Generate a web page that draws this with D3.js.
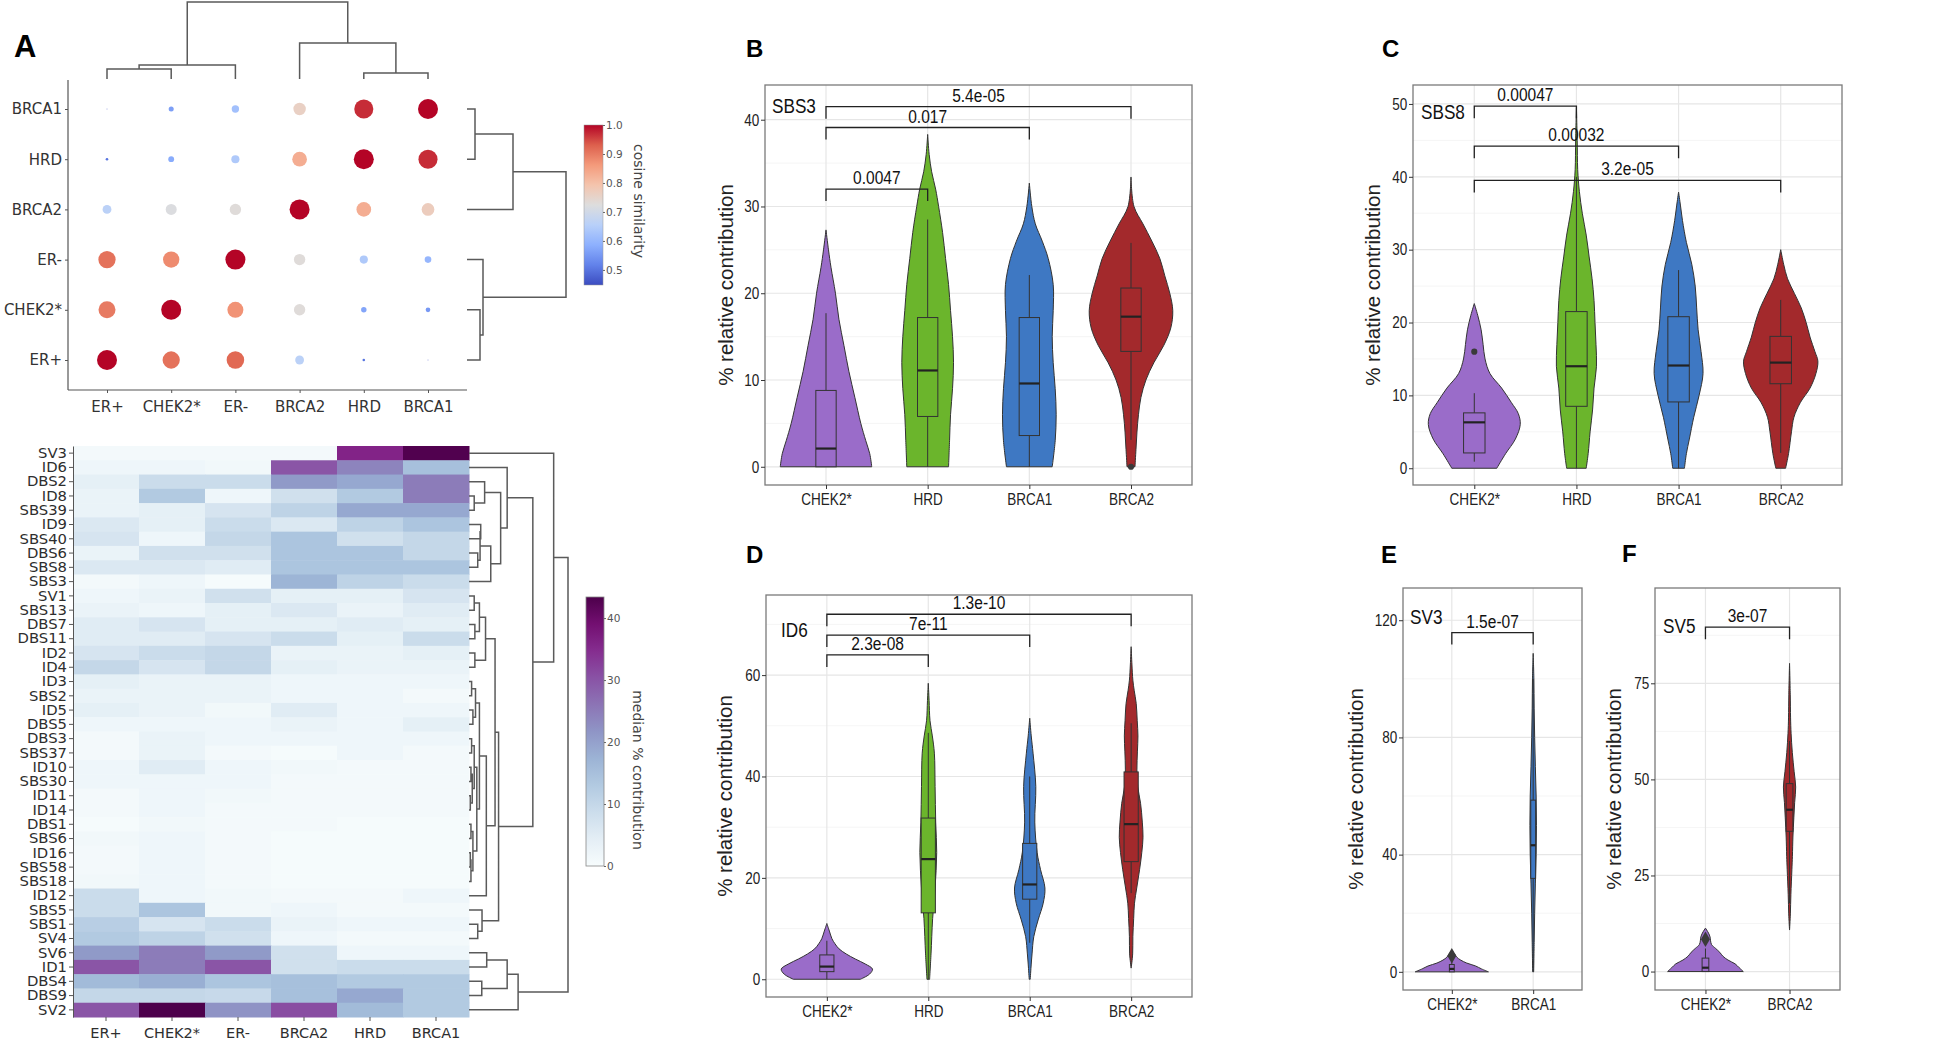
<!DOCTYPE html>
<html><head><meta charset="utf-8">
<script src="https://cdn.jsdelivr.net/npm/d3@7"></script>
<style>body{margin:0;background:#fff;}</style>
</head><body>
<svg id="c" width="1960" height="1042"></svg>
<script>
// ---------------- DATA ----------------
const dotCols = ["ER+","CHEK2*","ER-","BRCA2","HRD","BRCA1"];
const dotRows = ["BRCA1","HRD","BRCA2","ER-","CHEK2*","ER+"];
const cosineValues = [
  [0.46,0.56,0.62,0.76,0.97,1.00],
  [0.50,0.58,0.64,0.83,1.00,0.97],
  [0.66,0.72,0.73,1.00,0.83,0.77],
  [0.91,0.88,1.00,0.73,0.64,0.60],
  [0.90,1.00,0.87,0.73,0.57,0.55],
  [1.00,0.91,0.92,0.66,0.50,0.46]
];
const cosineTicks = [0.5,0.6,0.7,0.8,0.9,1.0];
// linkage: [childA, childB, height]; leaves 0..n-1, merges n..
const dotColLinkage = [[0,1,10],[6,2,14],[4,5,6],[3,8,36],[7,9,77]];
const dotRowLinkage = [[0,1,8],[6,2,46],[4,5,13],[3,8,16],[7,9,99]];

const heatCols = ["ER+","CHEK2*","ER-","BRCA2","HRD","BRCA1"];
const heatRows = ["SV3","ID6","DBS2","ID8","SBS39","ID9","SBS40","DBS6","SBS8","SBS3","SV1","SBS13","DBS7","DBS11","ID2","ID4","ID3","SBS2","ID5","DBS5","DBS3","SBS37","ID10","SBS30","ID11","ID14","DBS1","SBS6","ID16","SBS58","SBS18","ID12","SBS5","SBS1","SV4","SV6","ID1","DBS4","DBS9","SV2"];
const heatValues = [
  [1,1,1,1,36,43],[2,2,1.5,30,24,15],[4,9,9,21,19,25],[3,13,2,8,13,25],[3,4,7,11,19,19],
  [6,4,9,6,11,14],[7,2,10,14,8,10],[3,8,8,14,14,10],[6,6,5,14,14,14],[1,2,0.5,17,11,9],
  [2,3,8,4,4,7],[3,2,4,6,3,5],[5,7,4,4,5,4],[5,5,7,9,4,9],[7,9,10,3,3,4],
  [10,7,10,4,3,3],[4,3,3,2,2,2],[3,3,3,2,2,1],[4,3,1.5,5,2,2],[2,2,2,3,2,4],
  [1,3,2,2,2,2],[1,3,1,0.5,2,1],[2,5,2,1.5,1,1],[2,2,2,1,1,1],[1,2,1.5,1,1,1],
  [1,2,1,1,1,1],[0.5,1.5,1,1,0.5,0.5],[1.5,2,1,0.5,0.5,0.5],[1,2,1,0.5,0.5,0.5],[1,2,1,0.5,0.5,0.5],
  [1.5,2,1,0.5,0.5,0.5],[9,2,1.5,1,1,2],[9,14,1.5,2,1,1],[12,7,9,3,2,2],[13,11,8,2,1,1],
  [21,25,21,8,2,2],[30,25,30,8,9,9],[16,18,14,15,13,13],[10,10,9.5,15,19,13],[30,43.4,22,31,16,13]
];
const heatTicks = [0,10,20,30,40];
const heatLinkage = [
  [3,4,4],[2,40,12],[5,6,9],[7,8,6.7],[42,43,8.5],[44,9,16.7],[41,45,24.3],[1,46,29.3],
  [10,11,4],[12,13,4.5],[48,49,8],[14,15,4.5],[50,51,12.7],
  [16,17,2],[18,19,3],[53,54,5],[20,21,2],[22,23,1.5],[24,25,1],[57,58,2.5],[56,59,4],
  [26,27,1.5],[28,29,1],[62,30,1.5],[61,63,3],[60,64,6],[55,65,8],[66,31,13.3],[52,67,20],
  [33,34,6.7],[32,69,10],[68,70,22.7],[47,71,49],[0,72,65],
  [35,36,13.6],[37,38,9.8],[74,75,29.3],[76,39,37.7],[73,77,76]
];

const groups4 = ["CHEK2*","HRD","BRCA1","BRCA2"];
// violin profiles: [value, relative density]
const sbs3Violins = [
  [[0,46],[1.5,44],[3,40],[5,35],[8,29],[11,23],[14,18],[17,13],[20,9.5],[23,5],[25,2.5],[27.3,0]],
  [[0,21],[3,22],[6,23],[9,25],[12,26],[15,25],[18,23],[21,21],[24,18],[27,15],[30,11],[32,8],[34,4],[36,1.5],[38.3,0]],
  [[0,23],[3,26],[6,27],[9,26],[12,24],[15,23],[18,24],[21,24],[24,19],[26,13],[28,6],[30,2.5],[32.7,0]],
  [[0,4],[2,5],[4,6],[6,7.5],[8,10],[10,15],[12,23],[14,33],[16,40],[18,42],[20,39],[22,34],[24,29],[26,21],[28,12],[30,3],[33.4,0]]
];
const sbs3Boxes = [[0,0,2.1,8.8,17.7],[0,5.8,11.1,17.2,28.5],[0,3.6,9.6,17.2,22.1],[3.1,13.3,17.3,20.6,25.8]];
const sbs3Outliers = [[3,0]];
const sbs3Tests = [[0,1,32.0,"0.0047"],[0,2,39.1,"0.017"],[0,3,41.5,"5.4e-05"]];

const sbs8Violins = [
  [[0,23],[2,32],[4,42],[6,47],[7.5,45],[9,38],[11,28],[13,16],[15,11],[17,9],[19,7],[21,3.5],[22.6,0]],
  [[0,10],[2,12],[5,14],[8,16.5],[11,18],[14,20.5],[17,20],[20,19],[23,18],[26,16],[29,13],[32,10],[35,6],[38,3],[41,1.3],[45,0.8],[49.5,0]],
  [[0,6],[2,8],[4,11],[7,15.5],[10,21],[13,25],[16,23],[19,20],[22,18.5],[25,17],[28,13.5],[31,8],[34,4],[36,2],[37.9,0]],
  [[0,5],[2,8],[5,11],[7,13.5],[9,20],[11,30],[13,36],[14.7,38],[16,35],[18,30],[20,26],[22,21],[24,14],[26,7],[28,3],[30,0]]
];
const sbs8Boxes = [[0.9,2.1,6.3,7.6,10.3],[0,8.5,14.0,21.5,40],[0,9.1,14.1,20.8,27.2],[2.1,11.6,14.5,18.1,23.1]];
const sbs8Outliers = [[0,16.0]];
const sbs8Tests = [[0,1,49.7,"0.00047"],[0,2,44.2,"0.00032"],[0,3,39.5,"3.2e-05"]];

const id6Violins = [
  [[0,33],[1,42],[2,45],[3,38],[4,28],[5,19],[6,12],[7,8],[8,5],[9.5,2.5],[11,0]],
  [[0,1.3],[5,2.7],[12,4.3],[18,6.7],[25,8.3],[31,7.3],[38,6.7],[44.6,6],[48,4],[51,1.7],[55,0.8],[58.4,0]],
  [[0,0.5],[3,1.5],[5,2.3],[8.4,4],[11.7,8.3],[15,13.3],[18,15],[21.6,10.7],[25,7.3],[31,5],[38,6],[44.6,3.3],[48,1.5],[51.5,0]],
  [[2.2,0],[5,1.5],[8.4,1.7],[12,2.5],[15,3.3],[18,5.5],[21.6,8.3],[25,10.5],[28,11.7],[31,11],[34.7,9.3],[38,6.5],[41.3,5.7],[45,6.2],[48,6.7],[51,6],[54.4,5],[57,3],[59,1.7],[62,0.8],[65.6,0]]
];
const id6Boxes = [[0,1.5,2.5,4.8,7.6],[0,13.1,23.7,31.8,48.6],[7.2,15.8,18.7,26.8,40],[17,23.2,30.6,40.9,50.5]];
const id6Outliers = [];
const id6Tests = [[0,1,64.0,"2.3e-08"],[0,2,67.9,"7e-11"],[0,3,72.0,"1.3e-10"]];

const sv3Groups = ["CHEK2*","BRCA1"];
const sv3Violins = [
  [[0,37],[1,30],[2,24],[3,15],[4,9],[5,5],[6,3],[7.4,0]],
  [[0,0.5],[10,1],[20,1.5],[30,2.2],[40,3],[50,3.3],[60,3],[70,2.2],[80,1.5],[90,1],[100,0.7],[108.7,0]]
];
const sv3Boxes = [[0,0,1,2.5,4],[0,31.9,43.2,58.6,100]];
const sv3Outliers = [[0,5.5]];
const sv3Tests = [[0,1,115.8,"1.5e-07"]];

const sv5Groups = ["CHEK2*","BRCA2"];
const sv5Violins = [
  [[0,37],[1,33],[2,29],[3,22],[4,17],[5,14],[6,10],[7,6],[8,5],[9,4.5],[10,3],[11.3,0]],
  [[10.8,0],[15,0.8],[20,1.3],[26.5,2.3],[30,2.8],[35,3.3],[40,4.2],[44,5],[48,6],[52,4.5],[57,2.7],[62,1.5],[66,1],[72,0.7],[80.2,0]]
];
const sv5Boxes = [[0,0,1,3.5,6],[17.8,36.5,42.1,48.9,60]];
const sv5Outliers = [[0,8.4]];
const sv5Tests = [[0,1,89.6,"3e-07"]];

// ---------------- STYLE ----------------
const groupColors = {"CHEK2*":"#9a6cc9","HRD":"#6bb52c","BRCA1":"#3e78c3","BRCA2":"#a3292c"};
const FA = "'DejaVu Sans', Verdana, sans-serif";
const FG = "'Liberation Sans', Arial, Helvetica, sans-serif";
const svg = d3.select('#c');

function txt(g, x, y, s, o = {}) {
  let tr = `translate(${x},${y})`;
  if (o.rot) tr += ` rotate(${o.rot})`;
  if (o.sx) tr += ` scale(${o.sx},1)`;
  return g.append('text').attr('transform', tr)
    .attr('text-anchor', o.anchor || 'start')
    .attr('font-family', o.family || FG)
    .attr('font-size', o.size || 16)
    .attr('font-weight', o.weight || 'normal')
    .attr('fill', o.fill || '#1a1a1a')
    .text(s);
}

function dendro(g, leafPos, linkage, base, len, orient) {
  const n = leafPos.length;
  const pos = leafPos.slice(), hts = new Array(n).fill(0);
  const hmax = d3.max(linkage, d => d[2]);
  const hs = d3.scaleLinear().domain([0, hmax]).range([0, len]);
  const path = d3.path();
  linkage.forEach(([a, b, h]) => {
    if (orient === 'top') {
      const ya = base - hs(hts[a]), yb = base - hs(hts[b]), yh = base - hs(h);
      path.moveTo(pos[a], ya); path.lineTo(pos[a], yh); path.lineTo(pos[b], yh); path.lineTo(pos[b], yb);
    } else {
      const xa = base + hs(hts[a]), xb = base + hs(hts[b]), xh = base + hs(h);
      path.moveTo(xa, pos[a]); path.lineTo(xh, pos[a]); path.lineTo(xh, pos[b]); path.lineTo(xb, pos[b]);
    }
    pos.push((pos[a] + pos[b]) / 2); hts.push(h);
  });
  g.append('path').attr('d', path.toString()).attr('fill', 'none').attr('stroke', '#5a5a5a').attr('stroke-width', 1.5);
}

// ---------------- PANEL A (top): dot plot ----------------
const gA = svg.append('g');
txt(gA, 14, 57, 'A', {size: 31, weight: 'bold', fill: '#000'});
const dx = d3.scalePoint().domain(dotCols).range([107, 428]);
const dy = d3.scalePoint().domain(dotRows).range([109, 360]);
const coolStops = ["#3b4cc0","#6282ea","#8db0fe","#b8d0f9","#dddddd","#f4c4ad","#f49a7b","#dd604d","#b40426"];
const cosMin = 0.448, cosMax = 1.0;
const cosColor = d3.scaleLinear()
  .domain(coolStops.map((c, i) => cosMin + (cosMax - cosMin) * i / (coolStops.length - 1)))
  .range(coolStops).interpolate(d3.interpolateRgb).clamp(true);
const cosSize = d3.scaleSqrt().domain([0.44, 1]).range([0, 10]).clamp(true);

gA.append('line').attr('x1', 68).attr('x2', 68).attr('y1', 80).attr('y2', 390).attr('stroke', '#555').attr('stroke-width', 1.2);
gA.append('line').attr('x1', 68).attr('x2', 467).attr('y1', 390).attr('y2', 390).attr('stroke', '#555').attr('stroke-width', 1.2);
const axL = gA.append('g').attr('transform', 'translate(68,0)').call(d3.axisLeft(dy).tickSize(3).tickPadding(3).tickSizeOuter(0));
const axB = gA.append('g').attr('transform', 'translate(0,390)').call(d3.axisBottom(dx).tickSize(3).tickSizeOuter(0));
[axL, axB].forEach(a => {
  a.select('.domain').remove();
  a.selectAll('line').attr('stroke', '#555');
  a.selectAll('text').attr('font-family', FA).attr('font-size', 15).attr('fill', '#333');
});
axB.selectAll('text').attr('y', 11);
gA.selectAll('circle.dot').data(dotRows.flatMap((r, i) => dotCols.map((c, j) => ({r, c, v: cosineValues[i][j]}))))
  .join('circle').attr('class', 'dot')
  .attr('cx', d => dx(d.c)).attr('cy', d => dy(d.r)).attr('r', d => cosSize(d.v)).attr('fill', d => cosColor(d.v));
dendro(gA, dotCols.map(c => dx(c)), dotColLinkage, 79, 77, 'top');
dendro(gA, dotRows.map(r => dy(r)), dotRowLinkage, 467, 99, 'right');

// colorbar A
const defs = svg.append('defs');
const grad1 = defs.append('linearGradient').attr('id', 'gcos').attr('x1', 0).attr('x2', 0).attr('y1', 1).attr('y2', 0);
coolStops.forEach((c, i) => grad1.append('stop').attr('offset', i / (coolStops.length - 1)).attr('stop-color', c));
const cbY = d3.scaleLinear().domain([cosMin, cosMax]).range([285, 125]);
gA.append('rect').attr('x', 584).attr('y', 125).attr('width', 19).attr('height', 160).attr('fill', 'url(#gcos)')
  .attr('stroke', '#999').attr('stroke-width', 0.5);
const cbAx = gA.append('g').attr('transform', 'translate(603,0)').call(d3.axisRight(cbY).tickValues(cosineTicks).tickFormat(d3.format('.1f')).tickSize(2).tickSizeOuter(0));
cbAx.select('.domain').remove();
cbAx.selectAll('line').attr('stroke', '#666');
cbAx.selectAll('text').attr('font-family', FA).attr('font-size', 10.5).attr('fill', '#555').attr('x', 3);
txt(gA, 634, 201, 'cosine similarity', {rot: 90, anchor: 'middle', family: FA, size: 14, fill: '#444'});

// ---------------- PANEL A (bottom): heatmap ----------------
const gH = svg.append('g');
const hx = d3.scaleBand().domain(heatCols).range([73, 469]);
const hy = d3.scaleBand().domain(heatRows).range([446, 1017]);
const hMax = 43.4;
const hColor = d3.scaleSequential(d3.interpolateBuPu).domain([0, hMax]);
gH.selectAll('rect.cell').data(heatRows.flatMap((r, i) => heatCols.map((c, j) => ({r, c, v: heatValues[i][j]}))))
  .join('rect').attr('class', 'cell')
  .attr('x', d => hx(d.c)).attr('y', d => hy(d.r)).attr('width', hx.bandwidth() + 0.5).attr('height', hy.bandwidth() + 0.5)
  .attr('fill', d => hColor(d.v));
const hL = gH.append('g').attr('transform', 'translate(73,0)').call(d3.axisLeft(hy).tickSize(4).tickPadding(2).tickSizeOuter(0));
hL.select('.domain').attr('stroke', '#555');
hL.selectAll('line').attr('stroke', '#555');
hL.selectAll('text').attr('font-family', FA).attr('font-size', 14.8).attr('fill', '#2e2e2e');
const hB = gH.append('g').attr('transform', 'translate(0,1017)').call(d3.axisBottom(hx).tickSize(4).tickSizeOuter(0));
hB.select('.domain').remove();
hB.selectAll('line').attr('stroke', '#555');
hB.selectAll('text').attr('font-family', FA).attr('font-size', 14.5).attr('fill', '#2e2e2e').attr('y', 11);
dendro(gH, heatRows.map(r => hy(r) + hy.bandwidth() / 2), heatLinkage, 469, 99, 'right');
// colorbar heatmap
const grad2 = defs.append('linearGradient').attr('id', 'gbupu').attr('x1', 0).attr('x2', 0).attr('y1', 1).attr('y2', 0);
d3.range(0, 1.0001, 0.1).forEach(t => grad2.append('stop').attr('offset', t).attr('stop-color', d3.interpolateBuPu(t)));
const cb2Y = d3.scaleLinear().domain([0, hMax]).range([866, 597]);
gH.append('rect').attr('x', 586).attr('y', 597).attr('width', 18).attr('height', 269).attr('fill', 'url(#gbupu)')
  .attr('stroke', '#888').attr('stroke-width', 0.8);
const cb2Ax = gH.append('g').attr('transform', 'translate(604,0)').call(d3.axisRight(cb2Y).tickValues(heatTicks).tickSize(2).tickSizeOuter(0));
cb2Ax.select('.domain').remove();
cb2Ax.selectAll('line').attr('stroke', '#666');
cb2Ax.selectAll('text').attr('font-family', FA).attr('font-size', 10.5).attr('fill', '#555').attr('x', 3);
txt(gH, 633, 770, 'median % contribution', {rot: 90, anchor: 'middle', family: FA, size: 14, fill: '#444'});

// ---------------- VIOLIN PANELS ----------------
function violinPanel(p) {
  const g = svg.append('g');
  const x = d3.scalePoint().domain(p.groups).range([p.left, p.right]).padding(0.6);
  const y = d3.scaleLinear().domain(p.domain).range([p.bottom, p.top]);
  const unit = x.step();
  const maxD = d3.max(p.violins.flat(), d => d[1]);
  const w = d3.scaleLinear().domain([0, maxD]).range([0, 0.45 * unit]);
  g.selectAll('line.minor').data(p.minor).join('line').attr('class', 'minor')
    .attr('x1', p.left).attr('x2', p.right).attr('y1', d => y(d)).attr('y2', d => y(d)).attr('stroke', '#f2f2f2').attr('stroke-width', 0.8);
  g.selectAll('line.major').data(p.ticks).join('line').attr('class', 'major')
    .attr('x1', p.left).attr('x2', p.right).attr('y1', d => y(d)).attr('y2', d => y(d)).attr('stroke', '#e6e6e6').attr('stroke-width', 1.2);
  g.selectAll('line.vmajor').data(p.groups).join('line').attr('class', 'vmajor')
    .attr('x1', d => x(d)).attr('x2', d => x(d)).attr('y1', p.top).attr('y2', p.bottom).attr('stroke', '#e6e6e6').attr('stroke-width', 1.2);
  p.groups.forEach((gr, i) => {
    const cx = x(gr);
    const area = d3.area().y(d => y(d[0])).x0(d => cx - w(d[1])).x1(d => cx + w(d[1])).curve(d3.curveCatmullRom.alpha(0.5));
    g.append('path').attr('d', area(p.violins[i])).attr('fill', groupColors[gr]).attr('stroke', '#333').attr('stroke-width', 1);
  });
  p.groups.forEach((gr, i) => {
    const cx = x(gr), [lo, q1, med, q3, hi] = p.boxes[i], bw = p.boxW * unit;
    g.append('line').attr('x1', cx).attr('x2', cx).attr('y1', y(hi)).attr('y2', y(q3)).attr('stroke', '#333').attr('stroke-width', 1);
    g.append('line').attr('x1', cx).attr('x2', cx).attr('y1', y(q1)).attr('y2', y(lo)).attr('stroke', '#333').attr('stroke-width', 1);
    g.append('rect').attr('x', cx - bw / 2).attr('y', y(q3)).attr('width', bw).attr('height', Math.max(0.5, y(q1) - y(q3)))
      .attr('fill', groupColors[gr]).attr('stroke', '#333').attr('stroke-width', 1);
    g.append('line').attr('x1', cx - bw / 2).attr('x2', cx + bw / 2).attr('y1', y(med)).attr('y2', y(med)).attr('stroke', '#222').attr('stroke-width', 2.2);
  });
  p.outliers.forEach(([gi, v]) => {
    const sym = d3.symbol().type(p.diamond ? d3.symbolDiamond : d3.symbolCircle).size(p.diamond ? 70 : 30);
    g.append('path').attr('d', sym()).attr('transform', `translate(${x(p.groups[gi])},${y(v)})`).attr('fill', '#3a3a3a');
  });
  g.append('rect').attr('x', p.left).attr('y', p.top).attr('width', p.right - p.left).attr('height', p.bottom - p.top)
    .attr('fill', 'none').attr('stroke', '#7a7a7a').attr('stroke-width', 1.3);
  const ya = g.append('g').attr('transform', `translate(${p.left},0)`).call(d3.axisLeft(y).tickValues(p.ticks).tickSize(4).tickSizeOuter(0));
  const xa = g.append('g').attr('transform', `translate(0,${p.bottom})`).call(d3.axisBottom(x).tickSize(4).tickSizeOuter(0));
  [ya, xa].forEach(a => {
    a.select('.domain').remove();
    a.selectAll('line').attr('stroke', '#333');
    a.selectAll('text').attr('font-family', FG).attr('font-size', 16.5).attr('fill', '#222').attr('transform', 'scale(0.82,1)');
  });
  ya.selectAll('text').attr('x', -7);
  xa.selectAll('text').attr('y', 8);
  txt(g, p.left - p.titleOff, (p.top + p.bottom) / 2, '% relative contribution', {rot: -90, anchor: 'middle', size: 20.5, fill: '#222'});
  txt(g, p.labX, p.labY, p.label, {size: 19.5, sx: 0.88, fill: '#111'});
  const span = p.domain[1] - p.domain[0];
  p.tests.forEach(([a, b, v, s]) => {
    const xa1 = x(p.groups[a]), xb1 = x(p.groups[b]), yv = y(v), yt = y(v - 0.03 * span);
    g.append('path').attr('d', `M${xa1},${yt}V${yv}H${xb1}V${yt}`).attr('fill', 'none').attr('stroke', '#222').attr('stroke-width', 1.3);
    txt(g, (xa1 + xb1) / 2, yv - 5, s, {anchor: 'middle', size: 18.5, sx: 0.84, fill: '#111'});
  });
  txt(svg, p.letX, p.letY, p.letter, {size: 24, weight: 'bold', fill: '#000'});
}

violinPanel({groups: groups4, violins: sbs3Violins, boxes: sbs3Boxes, outliers: sbs3Outliers, tests: sbs3Tests,
  left: 765, top: 85, right: 1192, bottom: 485, domain: [-2.1, 44.0], ticks: [0,10,20,30,40], minor: [5,15,25,35],
  boxW: 0.2, titleOff: 32, label: 'SBS3', labX: 772, labY: 113, letter: 'B', letX: 746, letY: 57});
violinPanel({groups: groups4, violins: sbs8Violins, boxes: sbs8Boxes, outliers: sbs8Outliers, tests: sbs8Tests,
  left: 1413, top: 85, right: 1842, bottom: 485, domain: [-2.3, 52.6], ticks: [0,10,20,30,40,50], minor: [5,15,25,35,45],
  boxW: 0.21, titleOff: 33, label: 'SBS8', labX: 1421, labY: 119, letter: 'C', letX: 1382, letY: 57});
violinPanel({groups: groups4, violins: id6Violins, boxes: id6Boxes, outliers: id6Outliers, tests: id6Tests,
  left: 766, top: 595, right: 1192, bottom: 997, domain: [-3.5, 75.8], ticks: [0,20,40,60], minor: [10,30,50,70],
  boxW: 0.14, titleOff: 34, label: 'ID6', labX: 781, labY: 637, letter: 'D', letX: 746, letY: 563});
violinPanel({groups: sv3Groups, violins: sv3Violins, boxes: sv3Boxes, outliers: sv3Outliers, tests: sv3Tests, diamond: true,
  left: 1403, top: 588, right: 1582, bottom: 990, domain: [-6.2, 131], ticks: [0,40,80,120], minor: [20,60,100],
  boxW: 0.06, titleOff: 40, label: 'SV3', labX: 1410, labY: 624, letter: 'E', letX: 1381, letY: 563});
violinPanel({groups: sv5Groups, violins: sv5Violins, boxes: sv5Boxes, outliers: sv5Outliers, tests: sv5Tests, diamond: true,
  left: 1655, top: 588, right: 1840, bottom: 990, domain: [-4.8, 99.8], ticks: [0,25,50,75], minor: [12.5,37.5,62.5,87.5],
  boxW: 0.08, titleOff: 34, label: 'SV5', labX: 1663, labY: 633, letter: 'F', letX: 1622, letY: 562});
</script>
</body></html>
